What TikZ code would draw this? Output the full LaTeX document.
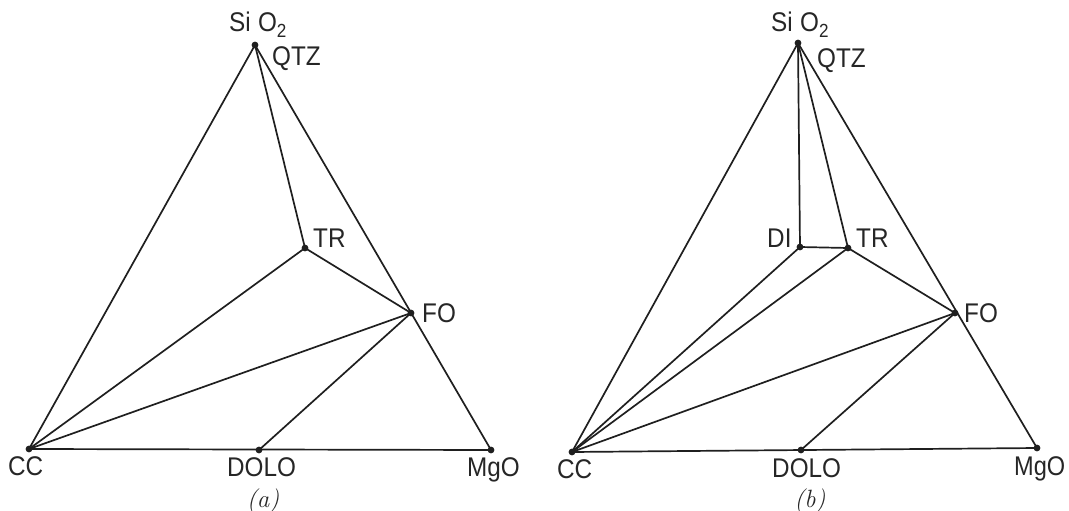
\documentclass[tikz,border=0pt]{standalone}
\usepackage{fontspec}
\newfontfamily\lett{Liberation Sans}
\newcommand\lt[1]{\scalebox{0.9}[1]{#1}}
\begin{document}
\begin{tikzpicture}[x=1pt,y=-1pt,
  edge/.style={line width=1.7pt,draw=black!88,line cap=round},
  lbl/.style={font=\lett\fontsize{27}{27}\selectfont,inner sep=0pt,anchor=base west,text=black!85},
  captext/.style={font=\fontsize{25}{25}\selectfont\itshape,inner sep=0pt,text=black!85}]
\useasboundingbox (0,0) rectangle (1069,511);
% ---------- panel (a)
\coordinate (aS) at (255,45);
\coordinate (aC) at (29,449);
\coordinate (aM) at (491,450);
\coordinate (aD) at (259,450);
\coordinate (aT) at (305,248);
\coordinate (aF) at (411,313);
\draw[edge] (aS) -- (aC) -- (aM) -- cycle;
\draw[edge] (aS) -- (aT) -- (aF);
\draw[edge] (aC) -- (aT);
\draw[edge] (aC) -- (aF);
\draw[edge] (aD) -- (aF);
\foreach \p in {aS,aC,aM,aD,aT,aF} \fill[black!88] (\p) circle (3.4pt);
\node[lbl] (aSl) at (229,32) {\lt{Si\hspace{0.3em}O\raisebox{-6pt}{\fontsize{19}{19}\selectfont 2}}};
\node[lbl] (aQl) at (272,66) {\lt{QTZ}};
\node[lbl] (aCl) at (8,475) {\lt{CC}};
\node[lbl] (aDl) at (227,476) {\lt{DOLO}};
\node[lbl] (aMl) at (467,476) {\lt{MgO}};
\node[lbl] (aTl) at (313,247) {\lt{TR}};
\node[lbl] (aFl) at (422,322) {\lt{FO}};
\node[captext] (acap) at (263,501) {(a)};
% ---------- panel (b)
\coordinate (bS) at (798,43);
\coordinate (bC) at (572,452);
\coordinate (bM) at (1037,448);
\coordinate (bD) at (801,450);
\coordinate (bI) at (800,247);
\coordinate (bT) at (848,248);
\coordinate (bF) at (955,313);
\draw[edge] (bS) -- (bC) -- (bM) -- cycle;
\draw[edge] (bS) -- (bI) -- (bT) -- (bS);
\draw[edge] (bT) -- (bF);
\draw[edge] (bC) -- (bI);
\draw[edge] (bC) -- (bT);
\draw[edge] (bC) -- (bF);
\draw[edge] (bD) -- (bF);
\foreach \p in {bS,bC,bM,bD,bI,bT,bF} \fill[black!88] (\p) circle (3.4pt);
\node[lbl] (bSl) at (771,32) {\lt{Si\hspace{0.3em}O\raisebox{-6pt}{\fontsize{19}{19}\selectfont 2}}};
\node[lbl] (bQl) at (817,68) {\lt{QTZ}};
\node[lbl] (bCl) at (557,478) {\lt{CC}};
\node[lbl] (bDl) at (772,477) {\lt{DOLO}};
\node[lbl] (bMl) at (1014,475) {\scalebox{0.97}[1]{\lt{MgO}}};
\node[lbl] (bIl) at (767,247) {\lt{DI}};
\node[lbl] (bTl) at (856,247) {\lt{TR}};
\node[lbl] (bFl) at (964,322) {\lt{FO}};
\node[captext] (bcap) at (810,501) {(b)};
\end{tikzpicture}
\end{document}
